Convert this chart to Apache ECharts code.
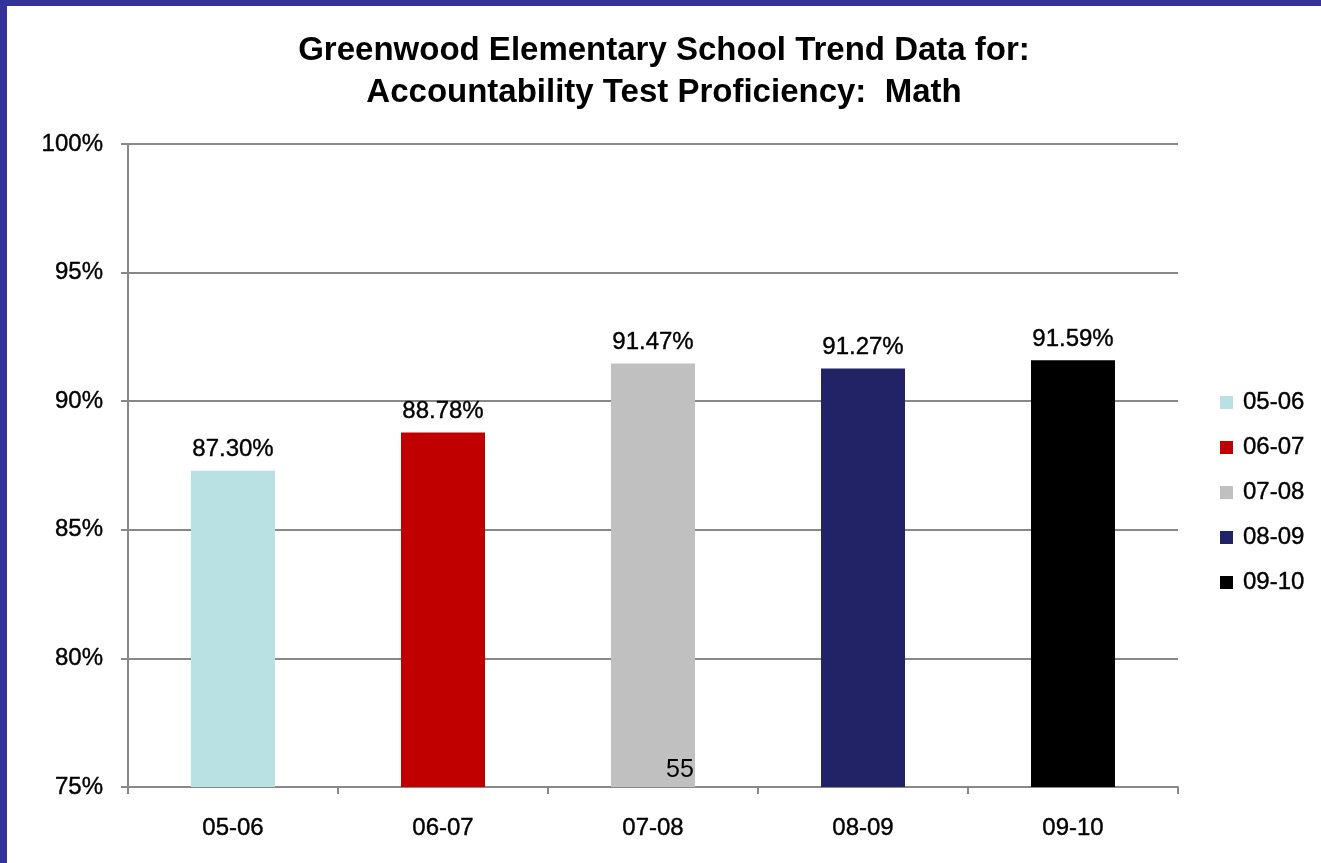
<!DOCTYPE html>
<html><head><meta charset="utf-8">
<script src="https://cdn.jsdelivr.net/npm/echarts@6/dist/echarts.min.js"></script>
<style>
html,body{margin:0;padding:0;width:1321px;height:863px;background:#33339a;overflow:hidden}
#c{position:absolute;left:7px;top:6px;width:1314px;height:857px;background:#fff}
</style></head><body><div id="c"></div>
<script>
const categories = ['05-06','06-07','07-08','08-09','09-10'];
const values = [87.30, 88.78, 91.47, 91.27, 91.59];
const colors = ['#b9e0e3','#c00000','#c0c0c0','#222266','#000000'];
const yTicks = [75, 80, 85, 90, 95, 100];
const noteText = '55';
const noteCategory = '07-08';

const chart = echarts.init(document.getElementById('c'));
const font = 'Liberation Sans, Arial, sans-serif';
const txt = {color: '#000', fontSize: 24, fontFamily: font, textBorderColor: '#000', textBorderWidth: 0.4};
const series = categories.map((name, i) => ({
  name: name,
  type: 'bar',
  stack: 'all',
  barWidth: '40%',
  itemStyle: {color: colors[i]},
  label: Object.assign({show: true, position: 'top', distance: 9,
    formatter: p => p.value.toFixed(2) + '%'}, txt),
  data: categories.map((c, j) => j === i ? values[i] : '-'),
  markPoint: name === noteCategory ? {
    symbol: 'rect', symbolSize: 1, itemStyle: {color: 'rgba(0,0,0,0)'},
    label: {show: true, formatter: noteText, color: '#000', fontSize: 25, fontFamily: font, offset: [27, -17]},
    data: [{coord: [noteCategory, 75]}]
  } : undefined
}));

chart.setOption({
  animation: false,
  title: {
    text: 'Greenwood Elementary School Trend Data for:\nAccountability Test Proficiency:  Math',
    left: 'center', top: 19,
    textStyle: {fontFamily: font, fontWeight: 'bold', fontSize: 33, lineHeight: 42, color: '#000'}
  },
  legend: {
    orient: 'vertical', left: 1208, top: 379, padding: 5,
    itemWidth: 13, itemHeight: 13, itemGap: 20, icon: 'rect',
    textStyle: Object.assign({lineHeight: 25, padding: [0, 0, 0, 5]}, txt, {fontSize: 24}),
    data: categories
  },
  grid: {left: 121, right: 143, top: 138, bottom: 76, containLabel: false},
  xAxis: {
    type: 'category', data: categories,
    axisLine: {lineStyle: {color: '#888', width: 2}},
    axisTick: {show: true, length: 7, lineStyle: {color: '#888', width: 2}},
    axisLabel: Object.assign({margin: 29}, txt)
  },
  yAxis: {
    type: 'value', min: 75, max: 100, interval: 5,
    axisLine: {show: true, lineStyle: {color: '#888', width: 2}},
    axisTick: {show: true, length: 7, lineStyle: {color: '#888', width: 2}},
    splitLine: {lineStyle: {color: '#888', width: 2}},
    axisLabel: Object.assign({margin: 25,
      formatter: v => yTicks.includes(v) ? v + '%' : ''}, txt)
  },
  series: series
});
</script></body></html>
